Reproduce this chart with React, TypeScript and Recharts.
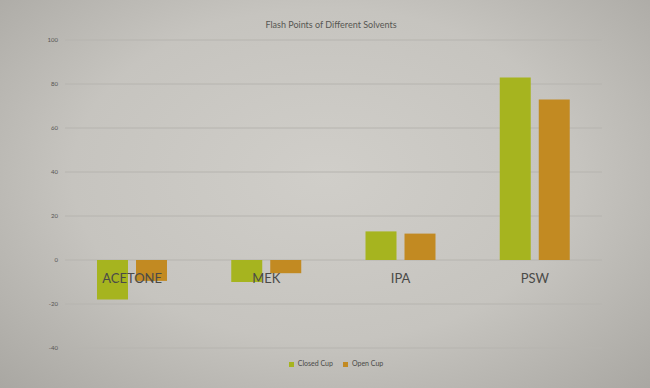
import React from "react";
import { Bar, BarChart, CartesianGrid, Legend, XAxis, YAxis } from "recharts";

const solvents = ["ACETONE", "MEK", "IPA", "PSW"];
const closedCup = [-18, -10, 13, 83];
const openCup = [-9.5, -6, 12, 73];
const yTicks = [-40, -20, 0, 20, 40, 60, 80, 100];

const W = 650;
const H = 388;
const M = { top: 40, right: 48, bottom: 2, left: 0 };
const PLOT_TOP = 40;
const PLOT_BOTTOM = 348;
const Y_AXIS_W = 65;
const Y_MIN = -40;
const Y_MAX = 100;

const data = solvents.map((name, i) => ({
  name,
  closed: closedCup[i],
  open: openCup[i],
}));

// category labels sit on the zero line, like the original sheet
function CategoryTick(props: any) {
  const zeroY =
    PLOT_TOP + ((PLOT_BOTTOM - PLOT_TOP) * (Y_MAX - 0)) / (Y_MAX - Y_MIN);
  return (
    <text
      x={props.x}
      y={zeroY + 23}
      textAnchor="middle"
      fontSize={13}
      fill="#4a4a48"
      fontFamily="Lato, sans-serif"
    >
      {props.payload.value}
    </text>
  );
}

export default function App() {
  return (
    <div
      style={{
        position: "absolute",
        left: 0,
        top: 0,
        width: W,
        height: H,
        background:
          "radial-gradient(ellipse at 50% 45%, #d0cec9 0%, #c6c4bf 55%, #a9a7a2 100%)",
        fontFamily: "Lato, sans-serif",
      }}
    >
      <div
        style={{
          position: "absolute",
          top: 19,
          left: 0,
          width: 662,
          textAlign: "center",
          fontSize: 9,
          color: "#575753",
        }}
      >
        Flash Points of Different Solvents
      </div>
      <BarChart
        width={W}
        height={H}
        data={data}
        margin={M}
        barSize={31}
        barGap={8}
      >
        <CartesianGrid vertical={false} stroke="#b6b4af" />
        <XAxis
          dataKey="name"
          height={30}
          axisLine={false}
          tickLine={false}
          tick={<CategoryTick />}
          interval={0}
        />
        <YAxis
          width={Y_AXIS_W}
          domain={[Y_MIN, Y_MAX]}
          ticks={yTicks}
          axisLine={false}
          tickLine={false}
          tickSize={0}
          tickMargin={7}
          tick={{ fontSize: 6, fill: "#555552" }}
        />
        <Legend
          iconType="square"
          iconSize={5}
          height={8}
          wrapperStyle={{ top: 359, left: 40, fontSize: 7, color: "#4a4a48" }}
          formatter={(v: string) => <span style={{ color: "#4a4a48" }}>{v}</span>}
        />
        <Bar dataKey="closed" name="Closed Cup" fill="#a6b41f" isAnimationActive={false} />
        <Bar dataKey="open" name="Open Cup" fill="#c28a22" isAnimationActive={false} />
      </BarChart>
    </div>
  );
}
